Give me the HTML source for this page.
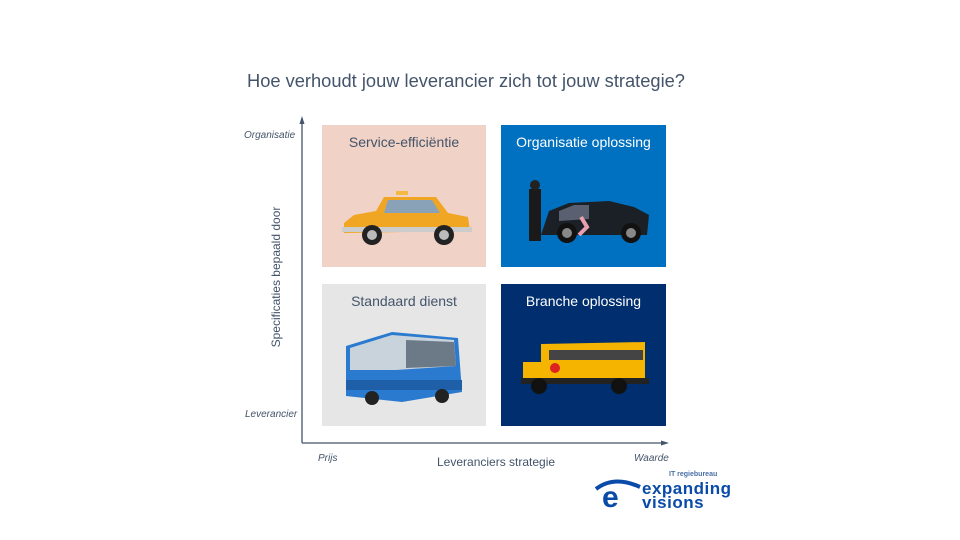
<!DOCTYPE html>
<html><head><meta charset="utf-8"><style>
body{margin:0;width:960px;height:540px;background:#fff;position:relative;overflow:hidden;font-family:"Liberation Sans",sans-serif;color:#44546a}
.a{position:absolute}
.t{font-size:14px;text-align:center;width:100%;top:9px}
.i{font-style:italic;font-size:10px}
</style></head><body>
<div class="a" style="left:247px;top:70px;white-space:nowrap;font-size:18.3px;color:#44546a">Hoe verhoudt jouw leverancier zich tot jouw strategie?</div>

<div class="a" style="left:322px;top:125px;width:164px;height:142px;background:#f0d2c6"><div class="a t" style="color:#44546a">Service-efficiëntie</div>
<svg class="a" style="left:14px;top:60px" width="140" height="65"><rect x="60" y="6" width="12" height="4" fill="#f5b940"/><path d="M8 38 L18 30 L40 26 L48 12 L100 12 L112 28 L132 32 L134 46 L8 48Z" fill="#f0a623"/><path d="M52 15 L96 15 L104 28 L48 28Z" fill="#8aa2b8"/><rect x="6" y="42" width="130" height="5" fill="#ccc"/><circle cx="36" cy="50" r="10" fill="#222"/><circle cx="36" cy="50" r="5" fill="#bbb"/><circle cx="108" cy="50" r="10" fill="#222"/><circle cx="108" cy="50" r="5" fill="#bbb"/></svg></div>

<div class="a" style="left:501px;top:125px;width:165px;height:142px;background:#0070c0"><div class="a t" style="color:#fff">Organisatie oplossing</div>
<svg class="a" style="left:18px;top:50px" width="135" height="75"><rect x="10" y="14" width="12" height="52" fill="#1a1a1a"/><circle cx="16" cy="10" r="5" fill="#222"/><path d="M22 60 L30 36 L50 28 L90 26 L115 32 L130 40 L128 60Z" fill="#1b2026"/><path d="M40 36 L55 30 L70 30 L70 44 L40 46Z" fill="#5a6070"/><circle cx="48" cy="58" r="10" fill="#111"/><circle cx="48" cy="58" r="5" fill="#888"/><circle cx="112" cy="58" r="10" fill="#111"/><circle cx="112" cy="58" r="5" fill="#888"/><path d="M62 42 L68 52 L60 60" stroke="#e8a0b0" stroke-width="4" fill="none"/></svg></div>

<div class="a" style="left:322px;top:284px;width:164px;height:142px;background:#e6e6e6"><div class="a t" style="color:#44546a">Standaard dienst</div>
<svg class="a" style="left:20px;top:42px" width="125" height="85"><path d="M4 20 L50 6 L116 12 L120 66 L60 76 L4 70Z" fill="#2a7bd0"/><path d="M8 22 L50 9 L112 14 L114 40 L54 44 L8 44Z" fill="#c9d3dc"/><path d="M64 14 L112 16 L114 40 L64 42Z" fill="#6c7a88"/><rect x="4" y="54" width="116" height="10" fill="#1f5fa8"/><circle cx="30" cy="72" r="7" fill="#222"/><circle cx="100" cy="70" r="7" fill="#222"/></svg></div>

<div class="a" style="left:501px;top:284px;width:165px;height:142px;background:#002e6e"><div class="a t" style="color:#fff">Branche oplossing</div>
<svg class="a" style="left:18px;top:52px" width="130" height="62"><path d="M22 8 L126 6 L126 44 L22 48Z" fill="#f4b400"/><rect x="4" y="26" width="22" height="20" fill="#f4b400"/><rect x="30" y="14" width="94" height="10" fill="#444"/><rect x="2" y="42" width="128" height="6" fill="#222"/><circle cx="20" cy="50" r="8" fill="#111"/><circle cx="100" cy="50" r="8" fill="#111"/><circle cx="36" cy="32" r="5" fill="#d22"/></svg></div>

<svg class="a" style="left:0;top:0" width="960" height="540">
<line x1="302" y1="122" x2="302" y2="443" stroke="#44546a" stroke-width="1.3"/>
<path d="M302 116 L299.5 124 L304.5 124Z" fill="#44546a"/>
<line x1="302" y1="443" x2="662" y2="443" stroke="#44546a" stroke-width="1.3"/>
<path d="M669 443 L661 440.5 L661 445.5Z" fill="#44546a"/>
</svg>

<div class="a i" style="left:244px;top:130px">Organisatie</div>
<div class="a i" style="left:245px;top:409px">Leverancier</div>
<div class="a i" style="left:318px;top:453px">Prijs</div>
<div class="a i" style="left:634px;top:453px">Waarde</div>
<div class="a" style="left:437px;top:455px;font-size:12px">Leveranciers strategie</div>
<div class="a" style="left:196px;top:270px;width:160px;text-align:center;font-size:12px;white-space:nowrap;transform:rotate(-90deg);transform-origin:center">Specificaties bepaald door</div>

<div class="a" style="left:669px;top:471px;font-size:7px;color:#4a6fa5;font-weight:bold">IT regiebureau</div>
<svg class="a" style="left:594px;top:475px" width="50" height="36"><path d="M2 14 Q20 0 46 12" stroke="#0a4aa8" stroke-width="4" fill="none"/><text x="8" y="32" font-size="30" font-family="Liberation Sans" font-weight="bold" fill="#0a4aa8">e</text></svg>
<div class="a" style="left:642px;top:482px;font-size:17px;font-weight:bold;color:#0a4aa8;line-height:14px;letter-spacing:0.5px">expanding<br>visions</div>
</body></html>
